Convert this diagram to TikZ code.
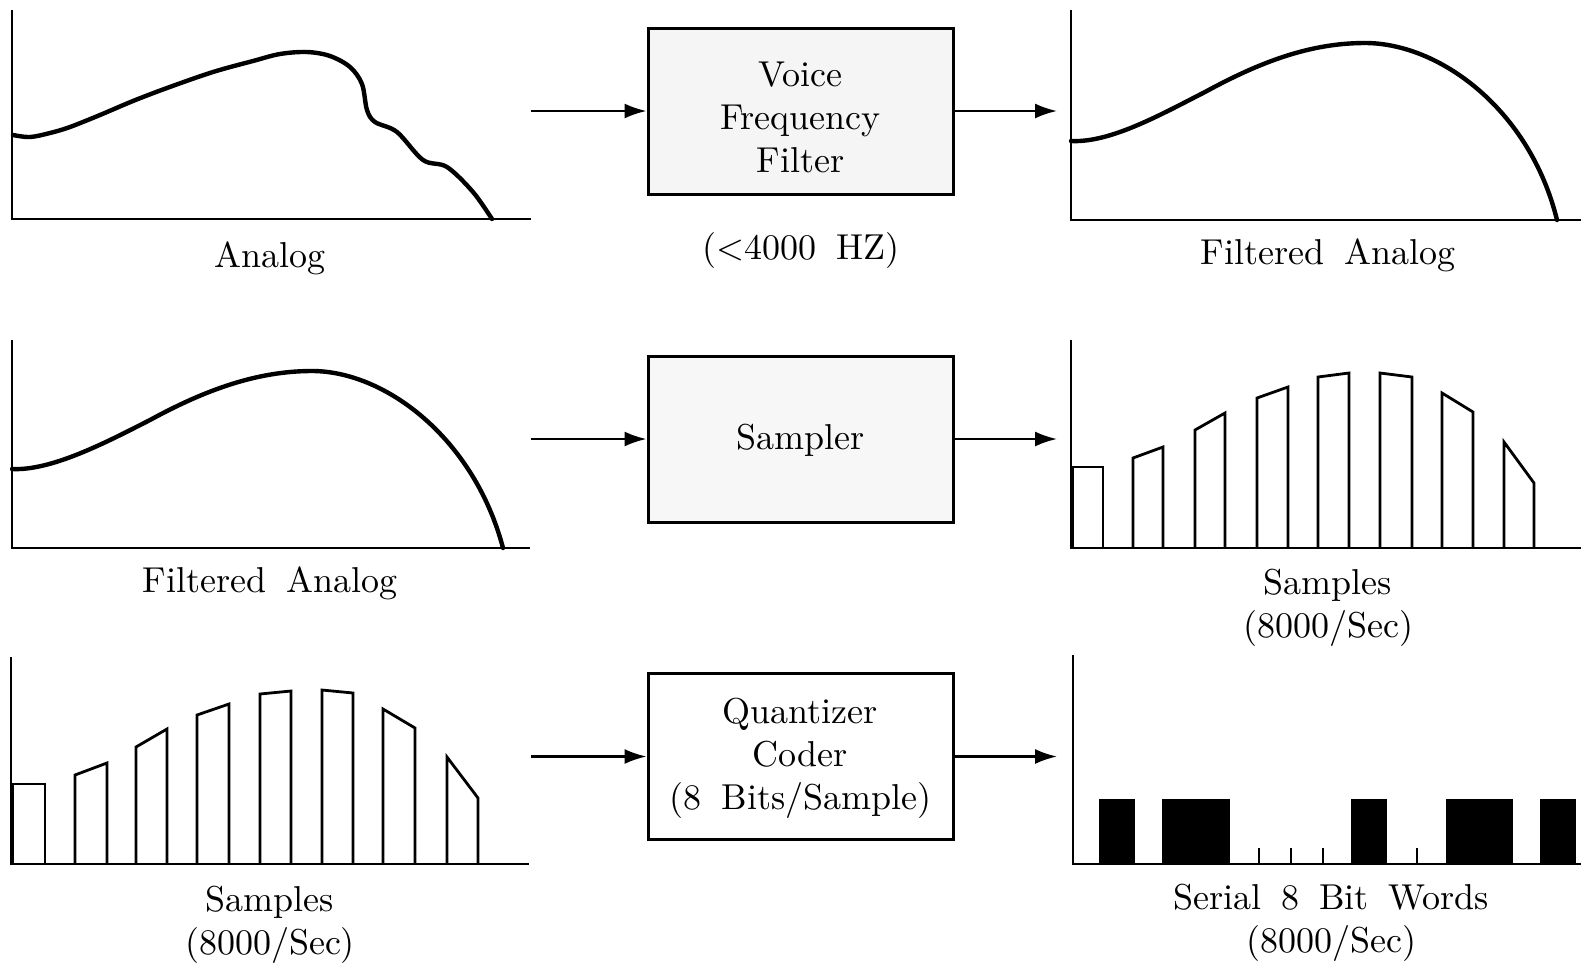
\documentclass[tikz,border=0pt]{standalone}
\usepackage{fontspec}
\setmainfont{lmroman10-regular.otf}
\usetikzlibrary{arrows.meta}
\newcommand\wsp{\hspace{0.55em}}
\begin{document}
\begin{tikzpicture}[x=0.5pt,y=-0.5pt,
  every node/.style={font=\fontsize{18}{21.5}\selectfont, inner sep=0pt},
  axis/.style={line width=1.2pt},
  wave/.style={line width=2.2pt, line join=round, line cap=round},
  bar/.style={line width=1.4pt, line join=miter},
  tick/.style={line width=1.4pt},
  box/.style={draw, line width=1.5pt, minimum width=152.5pt, minimum height=83pt, inner sep=0pt},
  lbl/.style={align=center},
  arr/.style={line width=1.1pt, -{Latex[length=11pt,width=7.5pt]}}]
\useasboundingbox (0,0) rectangle (1581,965);

% ---------- Row 1 ----------
\draw[axis] (12,10) -- (12,219) -- (531,219);
\draw[wave] plot[smooth,tension=0.55] coordinates {(13,135) (30,137) (50,133) (70,127) (100,115) (133,101) (167,88) (213,72) (253,61) (280,54) (307,52) (330,56) (350,67) (362,84) (367,110) (375,122) (397,132) (423,160) (447,167) (473,192) (492,219)};
\node[lbl] (lanalog) at (270,258) {Analog};

\node[box, fill=black!4] (filter) at (800.5,111) {};
\node[lbl] (filtertxt) at (800.5,117) {Voice\\Frequency\\Filter};
\node[lbl] (hz) at (801,250) {(\textless4000\wsp HZ)};

\draw[axis] (1071,10) -- (1071,220) -- (1581,220);
\draw[wave] (1071,141) .. controls (1110,143) and (1160,115) .. (1205,92)
  .. controls (1260,62) and (1310,43) .. (1365,43)
  .. controls (1440,43) and (1530,110) .. (1557,220);
\node[lbl] (rfilt) at (1328,255) {Filtered\wsp Analog};

\coordinate (a1s) at (531,111);
\coordinate (a2e) at (1057,111);
\draw[arr] (a1s) -- (filter.west);
\draw[arr] (filter.east) -- (a2e);

% ---------- Row 2 ----------
\draw[axis] (12,340) -- (12,548) -- (530,548);
\draw[wave] (12,469) .. controls (51,471) and (105,443) .. (150,420)
  .. controls (205,390) and (257,371) .. (312,371)
  .. controls (385,371) and (474,438) .. (503,548);
\node[lbl] (lfilt) at (270,583) {Filtered\wsp Analog};

\node[box, fill=black!3] (sampler) at (800.5,439) {};
\node[lbl] (samplertxt) at (800.5,440) {Sampler};

\draw[axis] (1071,340) -- (1071,548) -- (1581,548);
\foreach \a/\b/\c/\d in {1073/1103/467/467, 1133/1163/458/447, 1195/1225/430/413, 1257/1288/398/387, 1318/1349/377/373, 1380/1412/373/377, 1442/1473/393/412, 1504/1534/442/483}
  \draw[bar] (\a,548) -- (\a,\c) -- (\b,\d) -- (\b,548);
\node[lbl] (rsamp) at (1328,608) {Samples\\(8000/Sec)};

\coordinate (b1s) at (531,439);
\coordinate (b2e) at (1057,439);
\draw[arr] (b1s) -- (sampler.west);
\draw[arr] (sampler.east) -- (b2e);

% ---------- Row 3 ----------
\draw[axis] (11,657) -- (11,864) -- (529,864);
\foreach \a/\b/\c/\d in {13/45/784/784, 75/107/775/763, 136/167/747/729, 197/229/715/704, 260/291/694/691, 322/353/690/693, 383/415/709/728, 447/478/757/798}
  \draw[bar] (\a,864) -- (\a,\c) -- (\b,\d) -- (\b,864);
\node[lbl] (lsamp) at (270,925) {Samples\\(8000/Sec)};

\node[box] (quant) at (800.5,756.5) {};
\node[lbl] (quanttxt) at (800.5,758) {Quantizer\\Coder\\(8\wsp Bits/Sample)};

\draw[axis] (1073,655) -- (1073,864) -- (1581,864);
\foreach \a/\b in {1099/1135, 1162/1230, 1351/1387, 1446/1513, 1540/1576}
  \fill[black] (\a,799) rectangle (\b,864);
\foreach \t in {1259,1291,1323,1417}
  \draw[tick] (\t,864) -- (\t,848);
\node[lbl] (words) at (1331,923) {Serial\wsp 8\wsp Bit\wsp Words\\(8000/Sec)};

\coordinate (c1s) at (531,756.5);
\coordinate (c2e) at (1057,756.5);
\draw[arr] (c1s) -- (quant.west);
\draw[arr] (quant.east) -- (c2e);
\end{tikzpicture}
\end{document}
